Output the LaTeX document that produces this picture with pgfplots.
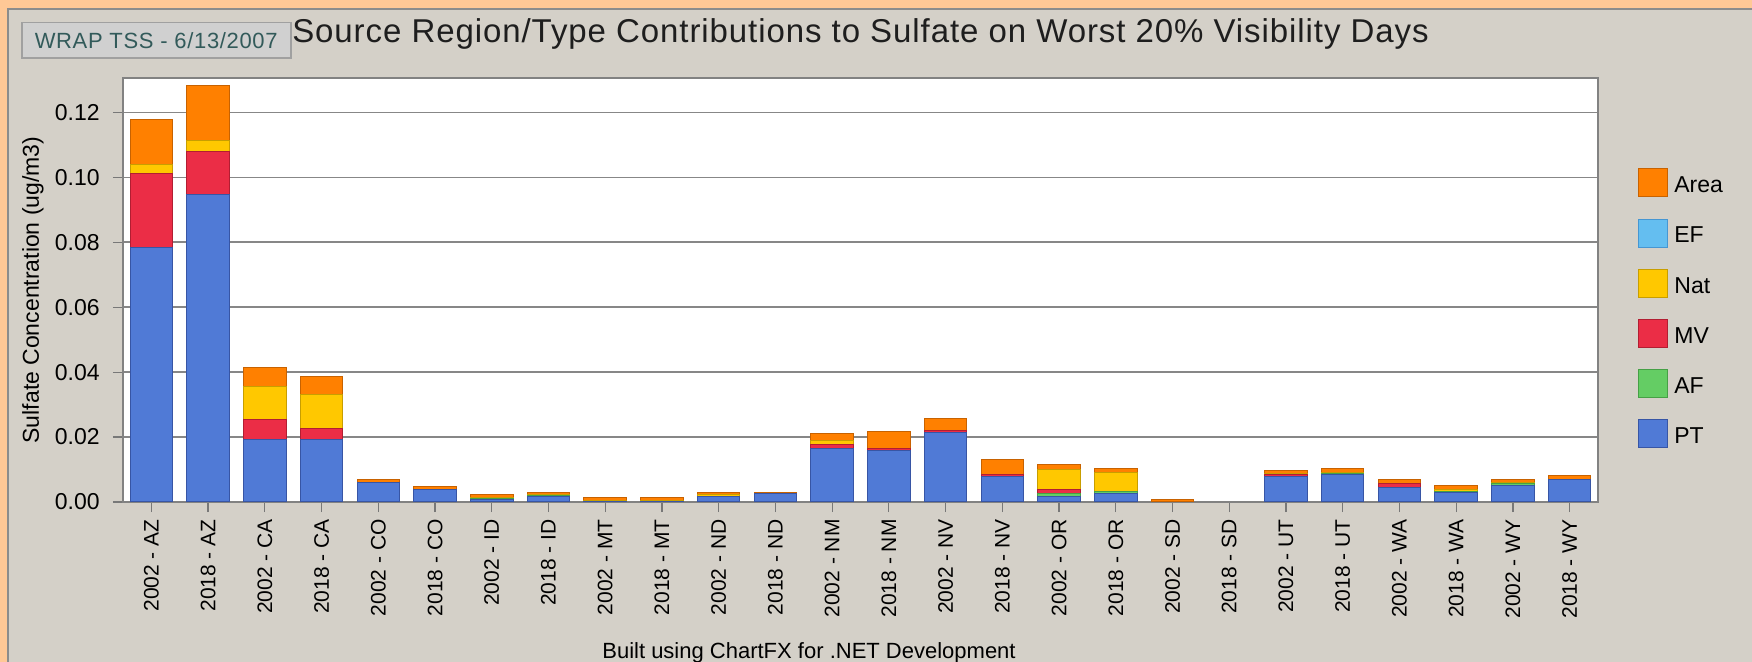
\documentclass[border=0pt]{standalone}
\usepackage{fontspec}
\setmainfont{Liberation Sans}
\newfontfamily\titlefont[LetterSpace=2.8]{Liberation Sans}
\newfontfamily\wrapfont[LetterSpace=3]{Liberation Sans}
\usepackage{pgfplots}
\usepackage{pgfplotstable}
\pgfplotsset{compat=1.18}

\definecolor{peach}{RGB}{255,200,150}
\definecolor{panel}{RGB}{212,208,200}
\definecolor{panelEdge}{RGB}{140,140,140}
\definecolor{frameC}{RGB}{130,130,130}
\definecolor{gridC}{RGB}{135,135,135}
\definecolor{tickC}{RGB}{120,120,120}
\definecolor{titleC}{RGB}{30,30,30}
\definecolor{wrapFill}{RGB}{208,208,208}
\definecolor{wrapEdge}{RGB}{160,160,160}
\definecolor{wrapText}{RGB}{50,90,90}
\definecolor{areaF}{RGB}{255,128,0}   \definecolor{areaD}{RGB}{200,98,0}
\definecolor{efF}{RGB}{100,190,240}   \definecolor{efD}{RGB}{70,150,210}
\definecolor{natF}{RGB}{255,200,0}    \definecolor{natD}{RGB}{200,158,0}
\definecolor{mvF}{RGB}{235,45,70}     \definecolor{mvD}{RGB}{178,30,50}
\definecolor{afF}{RGB}{100,205,100}   \definecolor{afD}{RGB}{70,160,70}
\definecolor{ptF}{RGB}{80,122,214}    \definecolor{ptD}{RGB}{55,85,165}

% contributions (ug/m3) per category, stacking order PT, AF, MV, Nat, EF, Area
\pgfplotstableread{
x   pt     af     mv     nat    ef  area
0   0.0784 0      0.0228 0.0029 0   0.0138
1   0.0946 0      0.0135 0.0034 0   0.0167
2   0.0193 0      0.0061 0.0103 0   0.0057
3   0.0193 0      0.0034 0.0104 0   0.0055
4   0.0059 0      0      0      0   0.0010
5   0.0038 0      0      0      0   0.0010
6   0.0008 0.0002 0      0.0005 0   0.0008
7   0.0017 0.0002 0      0.0004 0   0.0006
8   0.0002 0      0      0.0002 0   0.0011
9   0.0002 0      0      0.0002 0   0.0011
10  0.0017 0      0      0.0005 0   0.0007
11  0.0025 0      0      0      0   0.0005
12  0.0166 0      0.0012 0.0010 0   0.0023
13  0.0160 0      0.0006 0      0   0.0052
14  0.0214 0      0.0007 0      0   0.0037
15  0.0079 0      0.0006 0      0   0.0045
16  0.0018 0.0007 0.0013 0.0061 0   0.0018
17  0.0027 0.0004 0      0.0060 0   0.0013
18  0      0      0      0      0   0.0008
19  0      0      0      0      0   0
20  0.0079 0      0.0005 0.0004 0   0.0009
21  0.0085 0.0002 0      0.0004 0   0.0013
22  0.0044 0      0.0012 0.0002 0   0.0012
23  0.0030 0.0002 0      0.0005 0   0.0013
24  0.0051 0.0006 0      0.0002 0   0.0010
25  0.0070 0      0      0      0   0.0013
}\datatable

\pgfplotsset{sqleg/.style={legend image code/.code={\draw[##1, line width=0.5pt] (0pt,-3pt) rectangle (14.5pt,11pt);}}}

\begin{document}
\begin{tikzpicture}
\path[use as bounding box] (0,0) rectangle (876pt,-331pt);
\clip (0,0) rectangle (876pt,-331pt);
\fill[peach] (0,0) rectangle (876pt,-331pt);
\filldraw[fill=panel, draw=panelEdge, line width=1pt] (4pt,-4.5pt) rectangle (900pt,-400pt);
\begin{axis}[
  at={(61.5pt,-251pt)}, anchor=south west,
  scale only axis, width=737.5pt, height=212pt,
  xmin=-0.5, xmax=25.5, ymin=0, ymax=0.1306,
  ybar, bar width=0.75, bar shift=0pt,
  axis background/.style={fill=white},
  axis line style={draw=frameC, line width=0.8pt},
  ymajorgrids, major grid style={draw=gridC, line width=0.8pt},
  xtick={0,...,25},
  xticklabels={2002 - AZ,2018 - AZ,2002 - CA,2018 - CA,2002 - CO,2018 - CO,2002 - ID,2018 - ID,2002 - MT,2018 - MT,2002 - ND,2018 - ND,2002 - NM,2018 - NM,2002 - NV,2018 - NV,2002 - OR,2018 - OR,2002 - SD,2018 - SD,2002 - UT,2018 - UT,2002 - WA,2018 - WA,2002 - WY,2018 - WY},
  ytick={0,0.02,0.04,0.06,0.08,0.1,0.12},
  tick align=outside, major tick length=5pt,
  xtick pos=left, ytick pos=left,
  tick style={draw=tickC, line width=0.6pt},
  xticklabel style={rotate=90, anchor=east, inner sep=0pt, font=\fontsize{10.5}{12}\selectfont},
  yticklabel style={anchor=east, inner sep=0pt, font=\fontsize{11.5}{13}\selectfont,
    /pgf/number format/fixed, /pgf/number format/fixed zerofill, /pgf/number format/precision=2},
  xticklabel shift=3.5pt, yticklabel shift=6.5pt,
  scaled y ticks=false,
  /pgf/number format/assume math mode=true,
  ylabel={Sulfate Concentration (ug/m3)},
  every axis y label/.style={at={(axis description cs:-0.061,0.5)}, rotate=90, anchor=center, font=\fontsize{11.5}{13}\selectfont},
  legend cell align=left,
  legend style={at={(axis description cs:1,1)}, anchor=north west, xshift=20pt, yshift=-45pt,
    draw=none, fill=none, inner sep=0pt, row sep=6.85pt, column sep=3pt,
    nodes={inner sep=0pt}, font=\fontsize{11.5}{13}\selectfont},
  restrict y to domain=0.00001:1,
]
\addplot[fill=areaF, draw=areaD, line width=0.5pt, bar shift=0pt, sqleg]
  table[x=x, y expr=\thisrow{pt}+\thisrow{af}+\thisrow{mv}+\thisrow{nat}+\thisrow{ef}+\thisrow{area}] {\datatable};
\addlegendentry{\raisebox{4.5pt}{Area}}
\addplot[fill=efF, draw=efD, line width=0.5pt, bar shift=0pt, sqleg]
  table[x=x, y expr=\thisrow{pt}+\thisrow{af}+\thisrow{mv}+\thisrow{nat}+\thisrow{ef}] {\datatable};
\addlegendentry{\raisebox{4.5pt}{EF}}
\addplot[fill=natF, draw=natD, line width=0.5pt, bar shift=0pt, sqleg]
  table[x=x, y expr=\thisrow{pt}+\thisrow{af}+\thisrow{mv}+\thisrow{nat}] {\datatable};
\addlegendentry{\raisebox{4.5pt}{Nat}}
\addplot[fill=mvF, draw=mvD, line width=0.5pt, bar shift=0pt, sqleg]
  table[x=x, y expr=\thisrow{pt}+\thisrow{af}+\thisrow{mv}] {\datatable};
\addlegendentry{\raisebox{4.5pt}{MV}}
\addplot[fill=afF, draw=afD, line width=0.5pt, bar shift=0pt, sqleg]
  table[x=x, y expr=\thisrow{pt}+\thisrow{af}] {\datatable};
\addlegendentry{\raisebox{4.5pt}{AF}}
\addplot[fill=ptF, draw=ptD, line width=0.5pt, bar shift=0pt, sqleg]
  table[x=x, y=pt] {\datatable};
\addlegendentry{\raisebox{4.5pt}{PT}}
\end{axis}
\node[font=\titlefont\fontsize{16.5}{20}\selectfont, text=titleC, anchor=base, inner sep=0pt] at (430.25pt,-21.5pt) {Source Region/Type Contributions to Sulfate on Worst 20\% Visibility Days};
\node[draw=wrapEdge, fill=wrapFill, line width=0.8pt, minimum width=134.5pt, minimum height=17.8pt, inner sep=0pt, font=\wrapfont\fontsize{11}{13}\selectfont, text=wrapText] at (78.1pt,-20.25pt) {WRAP TSS - 6/13/2007};
\node[font=\fontsize{11}{13}\selectfont, anchor=base, inner sep=0pt] at (404.5pt,-329.5pt) {Built using ChartFX for .NET Development};
\end{tikzpicture}
\end{document}
